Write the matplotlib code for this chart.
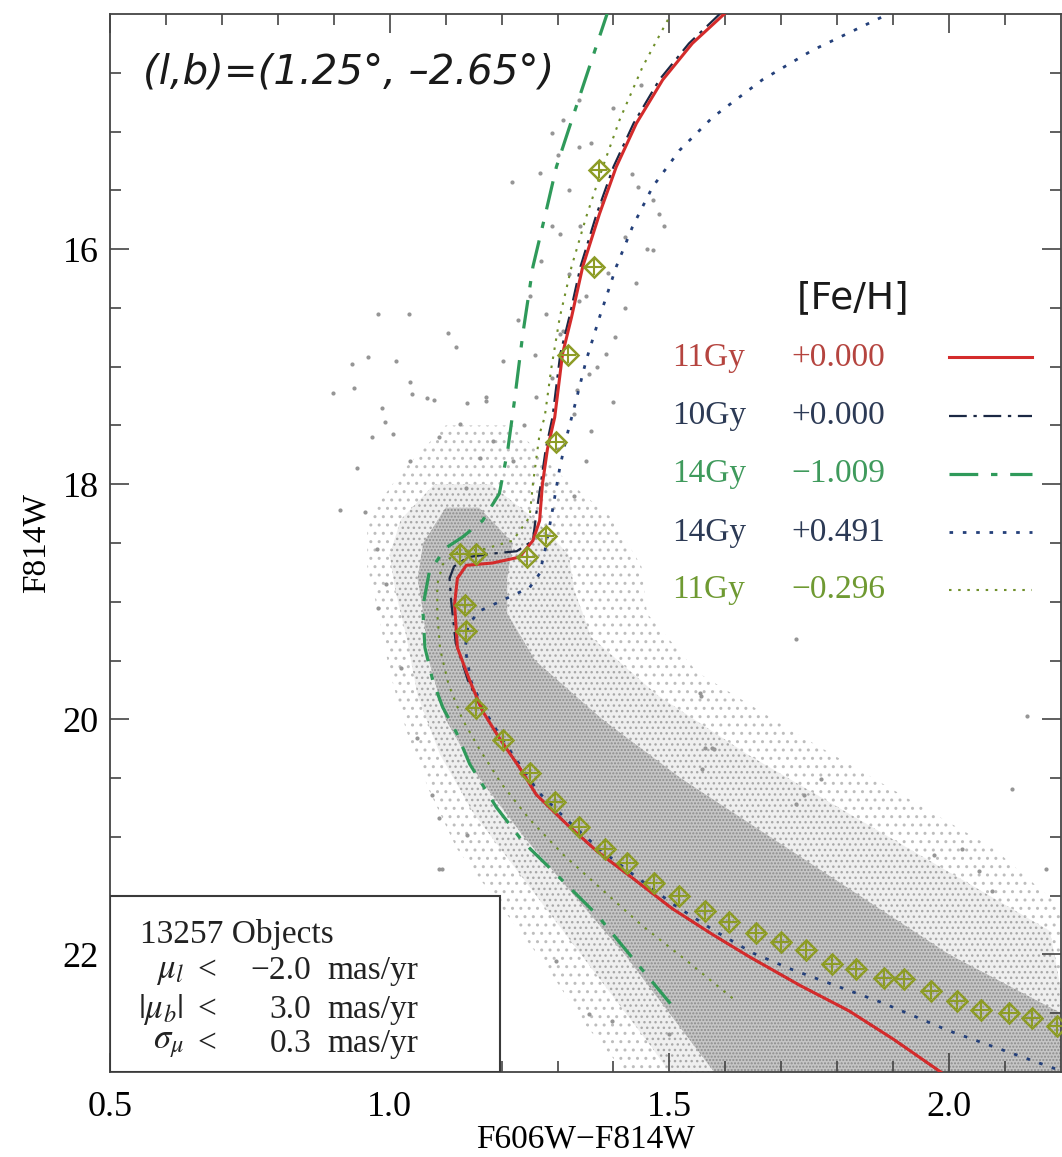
import numpy as np
import matplotlib
matplotlib.use('Agg')
import matplotlib.pyplot as plt
from matplotlib.patches import Rectangle

plt.rcParams['font.family'] = ['Liberation Serif', 'DejaVu Serif']
plt.rcParams['mathtext.fontset'] = 'stix'
plt.rcParams['hatch.linewidth'] = 1.0

# isochrones (colour F606W-F814W, magnitude F814W)
red_x = [1.598,1.541,1.488,1.441,1.405,1.375,1.345,1.325,1.309,1.295,1.282,1.273,1.268,1.256,1.232,1.184,1.137,1.121,1.116,1.121,1.143,1.166,1.196,1.232,1.262,1.316,1.370,1.434,1.505,1.577,1.643,1.732,1.821,1.900,1.985]
red_y = [14.00,14.25,14.56,14.93,15.30,15.70,16.15,16.58,16.89,17.43,17.70,18.00,18.31,18.48,18.62,18.67,18.69,18.80,19.02,19.39,19.67,19.93,20.16,20.41,20.64,20.89,21.12,21.35,21.61,21.83,22.02,22.26,22.48,22.72,23.00]

g10_x = [1.590,1.535,1.482,1.436,1.400,1.370,1.341,1.321,1.305,1.291,1.279,1.270,1.262,1.256,1.227,1.184,1.140,1.115,1.107,1.110,1.118,1.140,1.166,1.196,1.232,1.262,1.316,1.370,1.434,1.505,1.577,1.643,1.732,1.821,1.900,1.985]
g10_y = [14.00,14.25,14.56,14.93,15.30,15.70,16.15,16.58,16.89,17.43,17.70,18.00,18.25,18.48,18.57,18.59,18.62,18.70,18.80,19.00,19.35,19.67,19.93,20.16,20.41,20.64,20.89,21.12,21.35,21.61,21.83,22.02,22.26,22.48,22.72,23.00]

mp_x = [1.392,1.357,1.327,1.298,1.277,1.256,1.238,1.223,1.211,1.196,1.166,1.130,1.101,1.071,1.059,1.063,1.077,1.095,1.120,1.143,1.191,1.238,1.298,1.370,1.434,1.516]
mp_y = [13.95,14.45,14.88,15.30,15.73,16.15,16.72,17.29,17.71,18.08,18.31,18.45,18.54,18.74,19.05,19.39,19.67,19.90,20.12,20.38,20.75,21.04,21.32,21.66,22.03,22.50]

mr_x = [1.900,1.755,1.666,1.577,1.518,1.470,1.434,1.405,1.375,1.351,1.333,1.316,1.304,1.291,1.280,1.268,1.250,1.227,1.196,1.160,1.140,1.135,1.145,1.170,1.200,1.236,1.266,1.320,1.374,1.438,1.509,1.581,1.650,1.720,1.800,1.880,2.000,2.100,2.200]
mr_y = [13.98,14.31,14.56,14.88,15.16,15.47,15.81,16.15,16.58,16.95,17.29,17.60,17.86,18.22,18.51,18.76,18.88,18.93,19.00,19.08,19.20,19.40,19.67,19.93,20.16,20.41,20.62,20.87,21.10,21.33,21.58,21.80,21.99,22.13,22.27,22.41,22.65,22.82,22.99]

sub_x = [1.505,1.452,1.411,1.381,1.351,1.325,1.304,1.289,1.277,1.268,1.256,1.250,1.220,1.170,1.120,1.095,1.085,1.085,1.090,1.105,1.130,1.160,1.200,1.250,1.310,1.380,1.450,1.530,1.620]
sub_y = [13.98,14.45,14.90,15.30,15.73,16.15,16.58,17.01,17.43,17.57,18.00,18.28,18.48,18.55,18.58,18.68,18.85,19.10,19.40,19.70,20.00,20.25,20.55,20.85,21.15,21.45,21.75,22.05,22.40]

# ridge-line points (diamonds)
dia_x = [1.375,1.366,1.318,1.298,1.280,1.125,1.155,1.245,1.134,1.137,1.155,1.202,1.250,1.295,1.339,1.384,1.425,1.473,1.518,1.563,1.607,1.655,1.700,1.745,1.791,1.834,1.884,1.920,1.968,2.014,2.057,2.107,2.148,2.193]
dia_y = [15.33,16.15,16.90,17.64,18.44,18.59,18.59,18.62,19.03,19.25,19.90,20.18,20.46,20.70,20.92,21.10,21.22,21.39,21.50,21.63,21.72,21.82,21.89,21.96,22.08,22.12,22.20,22.21,22.31,22.40,22.47,22.50,22.54,22.61]

# star cloud outlines: outer halo, middle band and dense core
out_y  = [17.5, 17.9, 18.3, 18.7, 19.1, 19.6, 20.1, 20.6, 21.1, 21.6, 22.1, 22.6, 23.0]
out_xl = [1.10, 1.02, 0.96, 0.96, 0.98, 1.00, 1.03, 1.07, 1.12, 1.20, 1.28, 1.35, 1.42]
out_xr = [1.22, 1.30, 1.40, 1.45, 1.46, 1.55, 1.72, 1.90, 2.08, 2.20, 2.20, 2.20, 2.20]

mid_y  = [18.0, 18.3, 18.6, 18.9, 19.3, 19.8, 20.3, 20.8, 21.3, 21.8, 22.3, 22.8, 23.0]
mid_xl = [1.08, 1.02, 1.00, 1.01, 1.03, 1.05, 1.09, 1.15, 1.23, 1.31, 1.39, 1.47, 1.50]
mid_xr = [1.18, 1.26, 1.32, 1.33, 1.36, 1.48, 1.64, 1.82, 2.00, 2.18, 2.20, 2.20, 2.20]

core_y  = [18.2, 18.5, 18.8, 19.1, 19.5, 20.0, 20.5, 21.0, 21.5, 22.0, 22.5, 23.0]
core_xl = [1.10, 1.06, 1.05, 1.06, 1.07, 1.10, 1.16, 1.24, 1.33, 1.42, 1.50, 1.58]
core_xr = [1.16, 1.22, 1.21, 1.21, 1.26, 1.38, 1.52, 1.68, 1.84, 2.00, 2.20, 2.20]

# scattered single stars
field_x = [0.979,1.034,1.105,1.118,0.962,1.012,0.932,1.036,0.898,0.936,1.039,1.066,1.080,0.986,1.139,1.173,0.991,1.125,0.968,1.006,1.089,0.941,1.036,1.161,0.911,0.955,0.977,0.994,0.979,1.184,1.137,
           1.218,1.268,1.339,1.434,1.470,1.482,1.443,1.470,1.441,1.402,1.387,1.304,1.280,1.262,1.202,1.173,1.334,1.357,1.291,1.309,1.339,1.321,1.339,1.304,
           1.727,2.139,2.113,1.580,1.563,1.557,1.771,1.741,1.727,1.973,2.023,2.054,2.173,2.077,
           1.021,1.048,1.075,1.089,1.089,1.139,1.093,1.298,1.357,1.398,1.500,1.554,1.577,1.559,
           1.30,1.32,1.36,1.40,1.45,1.38,1.42,1.29,1.27,1.35,1.31,1.39,1.42,1.26,1.29,
           1.33,1.37,1.24,1.30,1.35,1.22,1.28,1.33,1.46,1.49,1.25,1.34,1.23,1.36,1.40]
field_y = [16.55,16.55,16.71,16.83,16.92,16.95,16.98,17.13,17.22,17.18,17.23,17.27,17.28,17.35,17.31,17.26,17.47,17.49,17.60,17.57,17.60,17.86,17.80,17.78,18.22,18.24,18.55,18.85,19.05,17.63,18.03,
           15.43,15.35,15.13,15.36,15.58,15.70,15.47,16.01,16.29,16.75,16.89,16.72,16.55,17.26,16.95,17.29,17.20,17.06,15.01,14.90,14.73,16.21,16.44,15.87,
           19.32,19.97,20.59,20.25,20.24,19.80,20.51,20.64,20.72,21.15,21.10,21.29,21.27,21.46,
           19.56,20.16,20.64,20.84,21.27,20.98,21.27,22.06,22.51,22.57,22.68,19.78,20.24,20.42,
           15.20,15.50,15.10,14.80,14.60,15.60,15.90,15.80,16.10,16.40,16.70,16.20,16.50,16.90,17.10,
           17.40,17.00,17.50,17.70,17.80,17.80,18.00,18.10,16.00,15.80,16.40,15.80,16.60,17.55,17.30]

# legend rows
leg_age = ['11Gy', '10Gy', '14Gy', '14Gy', '11Gy']
leg_feh = ['+0.000', '+0.000', '\u22121.009', '+0.491', '\u22120.296']
leg_y = [16.92, 17.42, 17.91, 18.41, 18.90]
leg_txtcol = ['#b5443f', '#2c3a55', '#3f9a5c', '#2c3a55', '#6f9a32']

styles = [
    dict(color='#d42b2b', lw=2.2, ls='-'),
    dict(color='#1b2844', lw=1.6, dashes=(8, 3, 1.5, 3)),
    dict(color='#2f9a5a', lw=2.3, dashes=(9, 4, 2, 4)),
    dict(color='#24407a', lw=2.0, dashes=(1.3, 3.5)),
    dict(color='#6f8f2a', lw=1.5, dashes=(1.2, 3.2)),
]

fig = plt.figure(figsize=(10.62, 11.57), dpi=100)
ax = fig.add_axes([110/1062, 1 - 1072/1157, 951/1062, 1058/1157])

# star cloud
ax.fill_betweenx(out_y, out_xl, out_xr, facecolor='none', edgecolor='#bdbdbd', hatch='..', lw=0, zorder=1)
ax.fill_betweenx(mid_y, mid_xl, mid_xr, facecolor='#efefef', edgecolor='#a8a8a8', hatch='...', lw=0, zorder=1.1)
ax.fill_betweenx(core_y, core_xl, core_xr, facecolor='#c6c6c6', edgecolor='#8c8c8c', hatch='.....', lw=0, zorder=1.2)
ax.plot(field_x, field_y, ls='none', marker='.', ms=4, color='#959595', zorder=2)

# isochrones (red last so it sits on top)
for xs, ys, st in [(sub_x, sub_y, styles[4]), (mr_x, mr_y, styles[3]), (mp_x, mp_y, styles[2]),
                   (g10_x, g10_y, styles[1]), (red_x, red_y, styles[0])]:
    ax.plot(xs, ys, zorder=3, **st)

# ridge-line diamonds
ax.plot(dia_x, dia_y, ls='none', marker='D', ms=10, mfc='none', mec='#8d9c26', mew=1.8, zorder=4)
ax.plot(dia_x, dia_y, ls='none', marker='+', ms=11, mec='#8d9c26', mew=1.5, zorder=4)

# legend
ax.text(1.829, 16.42, '[Fe/H]', family='DejaVu Sans', fontsize=27, ha='center', va='center', color='#1a1a1a')
for i in range(5):
    ax.text(1.504, leg_y[i], leg_age[i], fontsize=24, color=leg_txtcol[i], va='center', ha='left')
    ax.text(1.718, leg_y[i], leg_feh[i], fontsize=24, color=leg_txtcol[i], va='center', ha='left')
    ax.plot([2.0, 2.148], [leg_y[i], leg_y[i]], zorder=3, **styles[i])

ax.text(0.559, 14.49, '(l,b)=(1.25\u00b0, \u20132.65\u00b0)', family='DejaVu Sans', style='italic',
        fontsize=29, ha='left', va='center', color='#1a1a1a')

# selection box
ax.add_patch(Rectangle((0.5, 21.5), 0.698, 1.5, facecolor='white', edgecolor='#3a3a3a', lw=1.5, zorder=5))
ax.text(0.554, 21.83, '13257 Objects', fontsize=24, va='center', color='#222222', zorder=6)
sym = [r'$\mu_l$', r'$|\mu_b|$', r'$\sigma_\mu$']
val = ['\u22122.0', '3.0', '0.3']
row_y = [22.14, 22.47, 22.76]
for i in range(3):
    ax.text(0.632, row_y[i], sym[i], fontsize=25, ha='right', va='center', color='#222222', zorder=6)
    ax.text(0.673, row_y[i], '<', fontsize=24, ha='center', va='center', color='#222222', zorder=6)
    ax.text(0.860, row_y[i], val[i], fontsize=24, ha='right', va='center', color='#222222', zorder=6)
    ax.text(0.888, row_y[i], 'mas/yr', fontsize=24, ha='left', va='center', color='#222222', zorder=6)

ax.set_xlim(0.5, 2.2)
ax.set_ylim(23.0, 14.0)
ax.set_xticks([0.5, 1.0, 1.5, 2.0])
ax.set_xticklabels(['0.5', '1.0', '1.5', '2.0'])
ax.set_xticks(np.arange(0.6, 2.2, 0.1), minor=True)
ax.set_yticks([16, 18, 20, 22])
ax.set_yticks([14.5, 15, 15.5, 16.5, 17, 17.5, 18.5, 19, 19.5, 20.5, 21, 21.5, 22.5], minor=True)
ax.tick_params(which='both', direction='in', top=True, right=True, color='#444444', width=1.2, labelsize=26)
ax.tick_params(which='major', length=14)
ax.tick_params(which='minor', length=8)
ax.tick_params(axis='x', pad=14)
ax.tick_params(axis='y', pad=8)
for s in ax.spines.values():
    s.set_color('#444444')
    s.set_linewidth(1.3)

ax.set_xlabel('F606W\u2212F814W', fontsize=24)
ax.xaxis.set_label_coords(0.5, -0.049)
ax.set_ylabel('F814W', fontsize=24, labelpad=8)

fig.savefig('out.png', dpi=100)
